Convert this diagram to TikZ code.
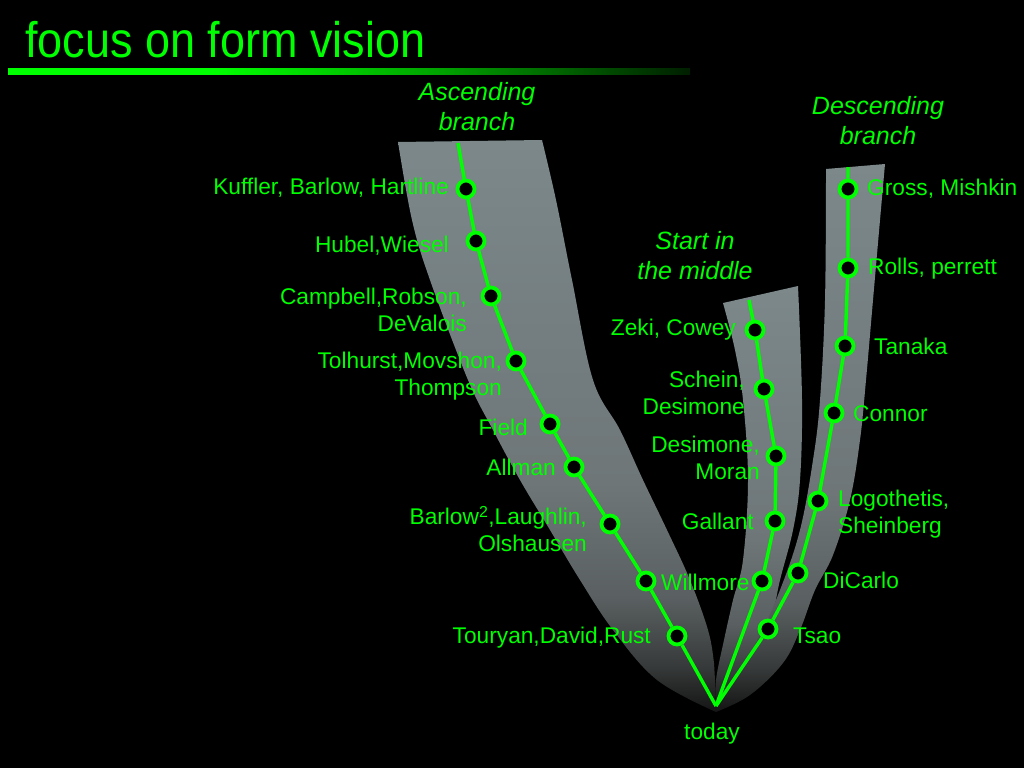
\documentclass[tikz,border=0pt]{standalone}
\usepackage{fontspec}
\setmainfont{Liberation Sans}
\usepackage{graphicx}
\definecolor{mygreen}{RGB}{0,255,0}
\definecolor{bandtop}{RGB}{124,136,138}
\definecolor{bandmid}{RGB}{110,118,120}
\definecolor{bandmid2}{RGB}{90,96,97}
\definecolor{bandlow}{RGB}{55,58,58}
\definecolor{bandbot}{RGB}{20,20,20}
\definecolor{barA}{RGB}{0,255,0}
\definecolor{barB}{RGB}{0,160,0}
\definecolor{barC}{RGB}{0,30,0}
\pgfdeclareverticalshading{bandsh}{100bp}{color(0bp)=(bandbot); color(25bp)=(bandbot); color(29bp)=(bandlow); color(35bp)=(bandmid2); color(45bp)=(bandmid); color(75bp)=(bandtop); color(100bp)=(bandtop)}
\pgfdeclarehorizontalshading{barsh}{100bp}{color(0bp)=(barA); color(25bp)=(barA); color(40bp)=(barA); color(57bp)=(barB); color(75bp)=(barC); color(100bp)=(barC)}
\tikzset{
  dot/.style={circle, fill=black, draw=mygreen, line width=3.8pt, minimum size=17pt, inner sep=0pt},
  branch/.style={draw=mygreen, line width=3.4pt},
  lab/.style={text=mygreen, inner sep=0pt, font=\fontsize{22.7}{27}\selectfont},
  labL/.style={lab, anchor=east, align=right},
  labR/.style={lab, anchor=west, align=left},
  head/.style={text=mygreen, inner sep=0pt, align=center, font=\fontsize{25}{30}\selectfont\itshape},
  band/.style={shading=bandsh}
}
\begin{document}
\begin{tikzpicture}[x=1pt,y=-1pt]
\useasboundingbox (0,0) rectangle (1024,768);
\fill[black] (0,0) rectangle (1024,768);

% title
\node[anchor=base west, inner sep=0pt, text=mygreen, font=\fontsize{50}{60}\selectfont] (title) at (25,58) {\scalebox{0.9}[1]{focus on form vision}};
\shade[shading=barsh] (8,68) rectangle (690,74);

% bands
\shade[band] plot[smooth, tension=0.6] coordinates {(398,142) (412,220) (430,280) (468,380) (493,430) (520,480) (550,530) (580,580) (613,630) (657,680) (716,712)}
  -- plot[smooth, tension=0.6] coordinates {(716,712) (715,680) (714,663) (708,630) (690,580) (667,530) (643,480) (620,430) (593,380) (572,280) (556,200) (542,140)} -- cycle;
\shade[band] plot[smooth, tension=0.6] coordinates {(723,303) (735,350) (743,400) (748,480) (743,560) (733,600) (724,640) (716,680) (716,708)}
  -- plot[smooth, tension=0.6] coordinates {(716,708) (740,670) (767,635) (780,580) (793,530) (800,480) (802,400) (798,286)} -- cycle;
\shade[band] plot[smooth, tension=0.6] coordinates {(826,169) (825,300) (820,400) (813,460) (800,530) (780,590) (755,645) (716,708)}
  -- plot[smooth, tension=0.6] coordinates {(716,712) (750,695) (783,663) (800,630) (815,590) (833,555) (850,500) (860,440) (866,380) (873,300) (880,220) (885,164)} -- cycle;

% headings
\node[head] (hA) at (477,107) {Ascending\\branch};
\node[head] (hM) at (695,256) {Start in\\the middle};
\node[head] (hD) at (878,121) {Descending\\branch};

% start and end points
\coordinate (a0) at (458,143);
\coordinate (m0) at (749,300);
\coordinate (d0) at (848,167);
\coordinate (t) at (716,706);

% dots
\node[dot] (a1) at (466,189) {};
\node[dot] (a2) at (476,241) {};
\node[dot] (a3) at (491,296) {};
\node[dot] (a4) at (516,361) {};
\node[dot] (a5) at (550,424) {};
\node[dot] (a6) at (574,467) {};
\node[dot] (a7) at (610,524) {};
\node[dot] (a8) at (646,581) {};
\node[dot] (a9) at (677,636) {};
\node[dot] (m1) at (755,330) {};
\node[dot] (m2) at (764,389) {};
\node[dot] (m3) at (776,456) {};
\node[dot] (m4) at (775,521) {};
\node[dot] (m5) at (762,581) {};
\node[dot] (d1) at (848,189) {};
\node[dot] (d2) at (848,268) {};
\node[dot] (d3) at (845,346) {};
\node[dot] (d4) at (834,413) {};
\node[dot] (d5) at (818,501) {};
\node[dot] (d6) at (798,573) {};
\node[dot] (d7) at (768,629) {};

% branches
\draw[branch] (a0) -- (a1) -- (a2) -- (a3) -- (a4) -- (a5) -- (a6) -- (a7) -- (a8) -- (a9) -- (t);
\draw[branch] (m0) -- (m1) -- (m2) -- (m3) -- (m4) -- (m5) -- (t);
\draw[branch] (d0) -- (d1) -- (d2) -- (d3) -- (d4) -- (d5) -- (d6) -- (d7) -- (t);

% labels ascending
\node[labL] (la1) at (449,188) {Kuffler, Barlow, Hartline};
\node[labL] (la2) at (449,246) {Hubel,Wiesel};
\node[labL] (la3) at (467,310) {Campbell,Robson,\\DeValois};
\node[labL] (la4) at (502,376) {Tolhurst,Movshon,\\Thompson};
\node[labL] (la5) at (528,427) {Field};
\node[labL] (la6) at (556,467) {Allman};
\node[labL] (la7) at (587,529) {Barlow\textsuperscript{2},Laughlin,\\Olshausen};
\node[labR] (la8) at (661,582) {Willmore};
\node[labL] (la9) at (651,638) {Touryan,David,Rust};
% labels middle
\node[labL] (lm1) at (736,330) {Zeki, Cowey};
\node[labL] (lm2) at (745,393) {Schein,\\Desimone};
\node[labL] (lm3) at (760,458) {Desimone,\\Moran};
\node[labL] (lm4) at (754,521) {Gallant};
% labels descending
\node[labR] (ld1) at (867,189) {Gross, Mishkin};
\node[labR] (ld2) at (868,269) {Rolls, perrett};
\node[labR] (ld3) at (874,346) {Tanaka};
\node[labR] (ld4) at (853,414) {Connor};
\node[labR] (ld5) at (838,514) {Logothetis,\\Sheinberg};
\node[labR] (ld6) at (823,580) {DiCarlo};
\node[labR] (ld7) at (793,636) {Tsao};
\node[lab] (today) at (712,734) {today};
\end{tikzpicture}
\end{document}
